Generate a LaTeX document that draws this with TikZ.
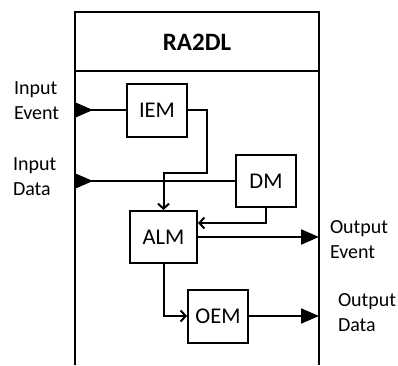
\documentclass[tikz,border=0pt]{standalone}
\usepackage{fontspec}
\setmainfont{Carlito}
\usetikzlibrary{arrows.meta}
\begin{document}
\begin{tikzpicture}
[x=1pt,y=-1pt,line width=2pt]
\tikzstyle{block}=[rectangle,draw,minimum width=60,minimum height=53,inner sep=0,font=\fontsize{22.5}{26}\selectfont]
\tikzstyle{port}=[align=left,anchor=west,inner sep=0,font=\fontsize{20}{25}\selectfont]
\tikzstyle{in tip}=[{Triangle[reversed,length=18pt,width=15pt]}-]
\tikzstyle{out tip}=[-{Triangle[length=18pt,width=15pt]}]
\tikzstyle{open tip}=[-{Straight Barb[length=5pt,width=11pt]}]
\useasboundingbox(0,0)rectangle(398,365);

% frame
\draw(75,365)--(75,12)--(319,12)--(319,365);
\draw(75,71)--(319,71);
\node(title)[font=\bfseries\fontsize{25}{30}\selectfont]at(197,42){RA2DL};

% modules
\node(iem)[block]at(157,110){IEM};
\node(dm)[block,minimum height=52]at(266,181){DM};
\node(alm)[block,minimum width=67,minimum height=52]at(163.5,237){ALM};
\node(oem)[block]at(218,316){OEM};

% ports
\coordinate(ie)at(75,110);
\coordinate(id)at(75,181);
\coordinate(oe)at(319,237);
\coordinate(od)at(319,316);
\node(inev)[port]at(13,101){Input\\Event};
\node(inda)[port]at(12,177){Input\\Data};
\node(outev)[port]at(329,240){Output\\Event};
\node(outda)[port]at(337,313){Output\\Data};

% connections
\draw[in tip](ie)--(iem);
\draw[in tip](id)--(dm);
\draw[open tip](iem)-|(207,173)-|(alm);
\draw[open tip](dm)|-([yshift=14pt]alm.east);
\draw[open tip](alm)|-(oem);
\draw[out tip](alm)--(oe);
\draw[out tip](oem)--(od);
\end{tikzpicture}
\end{document}
